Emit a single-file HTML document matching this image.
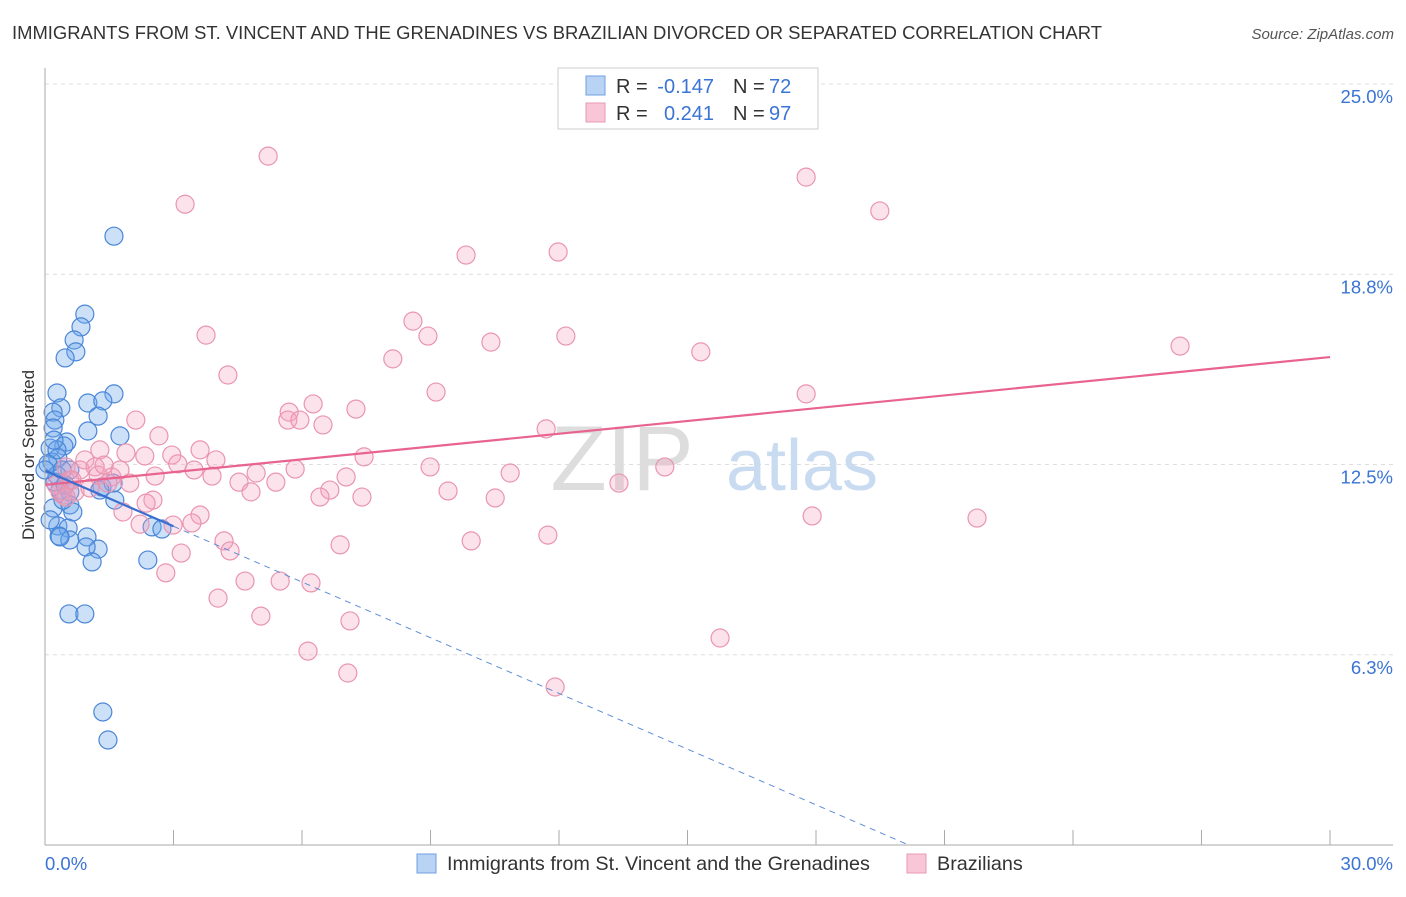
<!DOCTYPE html>
<html><head><meta charset="utf-8"><style>
body{margin:0;background:#fff;font-family:"Liberation Sans",sans-serif;}
svg text{font-family:"Liberation Sans",sans-serif;}
</style></head><body>
<svg id="chart" width="1406" height="892" viewBox="0 0 1406 892" xmlns="http://www.w3.org/2000/svg">
<text x="12" y="39" font-size="18" fill="#333" textLength="1090" lengthAdjust="spacingAndGlyphs">IMMIGRANTS FROM ST. VINCENT AND THE GRENADINES VS BRAZILIAN DIVORCED OR SEPARATED CORRELATION CHART</text>
<text x="1394" y="39" font-size="15" fill="#555" text-anchor="end" font-style="italic">Source: ZipAtlas.com</text>
<text transform="translate(34,455) rotate(-90)" font-size="17" fill="#333" text-anchor="middle">Divorced or Separated</text>
<g id="grid"></g>
<g id="watermark">
<text x="622" y="490" font-size="92" fill="#ddd" font-family="Liberation Serif" text-anchor="middle">ZIP</text>
<text x="802" y="490" font-size="72" fill="#c9dbf0" text-anchor="middle">atlas</text>
</g>
<g id="blue-points"></g>
<g id="pink-points"></g>
<g id="trends"></g>
<g id="axes"></g>
<g>
<rect x="558" y="68" width="260" height="61" fill="#fff" stroke="#ccc"/>
<rect x="586" y="76" width="19" height="19" fill="#b9d3f5" stroke="#6f9fe0"/>
<rect x="586" y="103" width="19" height="19" fill="#f8c6d6" stroke="#e99ab4"/>
<text x="616" y="93" font-size="20" fill="#333">R =</text>
<text x="714" y="93" font-size="20" fill="#3a74d4" text-anchor="end">-0.147</text>
<text x="733" y="93" font-size="20" fill="#333">N =</text>
<text x="769" y="93" font-size="20" fill="#3a74d4">72</text>
<text x="616" y="120" font-size="20" fill="#333">R =</text>
<text x="714" y="120" font-size="20" fill="#3a74d4" text-anchor="end">0.241</text>
<text x="733" y="120" font-size="20" fill="#333">N =</text>
<text x="769" y="120" font-size="20" fill="#3a74d4">97</text>
</g>
<g>
<rect x="417" y="854" width="19" height="19" fill="#b9d3f5" stroke="#6f9fe0"/>
<text x="447" y="870" font-size="19.8" fill="#333">Immigrants from St. Vincent and the Grenadines</text>
<rect x="907" y="854" width="19" height="19" fill="#f8c6d6" stroke="#e99ab4"/>
<text x="937" y="870" font-size="19.8" fill="#333">Brazilians</text>
</g>
</svg>
<script>
const yTicks=[6.25,12.5,18.75,25];
const yTickLabels=["6.3%","12.5%","18.8%","25.0%"];
const xTickCount=10;
const xLabels=["0.0%","30.0%"];
const blueX=[1.61,0.93,0.84,0.68,0.72,0.47,0.28,1.61,1.0,1.35,0.37,0.19,1.24,0.23,1.0,1.75,0.19,0.51,0.44,0.12,0.3,0.16,0.07,0.58,0.28,0.35,0.58,0.23,1.33,1.59,1.63,0.58,0.65,0.19,0.3,0.54,2.5,2.73,0.33,0.58,0.98,1.24,0.96,1.1,2.4,0.56,0.93,1.35,1.47,0.42,0.28,0.4,0.47,0.21,0.12,1.28,0,0.35];
const blueY=[20.0,17.44,17.02,16.59,16.2,16.0,14.85,14.82,14.52,14.59,14.36,14.22,14.09,13.96,13.6,13.44,13.7,13.24,13.11,13.04,12.71,12.58,12.52,12.32,12.15,11.66,11.6,11.92,11.76,11.89,11.33,11.17,10.94,11.07,10.48,10.41,10.45,10.38,10.15,10.02,10.12,9.72,9.79,9.3,9.36,7.59,7.59,4.37,3.45,11.33,12.98,12.32,11.83,13.3,10.68,11.66,12.32,10.12];
const pinkX=[5.21,3.27,17.77,19.49,9.83,11.98,3.76,8.59,8.94,10.41,12.16,15.31,26.5,8.12,4.27,9.13,17.77,5.7,6.26,7.26,5.67,5.95,6.49,2.12,2.66,11.7,3.62,3.99,2.96,2.33,1.28,1.89,7.45,8.99,10.86,14.47,5.84,4.93,3.48,2.57,3.1,3.9,1.56,1.98,4.53,5.39,7.03,6.65,4.81,2.52,2.36,9.41,10.51,13.4,7.4,6.42,1.82,3.62,3.43,2.22,2.99,17.91,21.76,11.74,9.95,6.89,4.18,4.32,3.18,2.82,4.67,5.49,6.21,4.04,5.04,7.12,15.76,6.14,7.07,11.91,0.49,0.82,0.58,0.35,0.7,1.05,1.47,0.93,1.17,0.26,0.42,0.63,1.24,1.75,0.49,1.38];
const pinkY=[22.63,21.05,21.94,20.83,19.38,19.48,16.75,17.21,16.72,16.52,16.72,16.2,16.39,15.97,15.44,14.88,14.82,14.22,14.49,14.32,13.96,13.96,13.8,13.96,13.44,13.67,12.98,12.65,12.81,12.78,12.98,12.88,12.75,12.42,12.22,12.42,12.35,12.22,12.32,12.12,12.52,12.12,12.09,11.89,11.92,11.92,12.09,11.66,11.6,11.33,11.23,11.63,11.4,11.89,11.43,11.43,10.94,10.84,10.58,10.54,10.51,10.81,10.74,10.18,9.99,9.86,9.99,9.66,9.59,8.94,8.67,8.67,8.61,8.11,7.52,7.36,6.8,6.37,5.65,5.19,12.42,12.32,11.99,11.6,11.6,11.73,11.89,12.65,12.42,11.83,11.5,11.99,12.15,12.32,11.43,12.48];
const pinkTrend=[11.83,16.03];
const blueTrend=[12.3,-0.61];
const blueSolidEnd=3.0;
const NS="http://www.w3.org/2000/svg";
const X0=45,X1=1330,Y0=845,Ytop=84;
const sx=v=>X0+v/30*(X1-X0);
const sy=v=>Y0-v/25*(Y0-Ytop);
function mk(tag,attrs,parent){const e=document.createElementNS(NS,tag);for(const k in attrs)e.setAttribute(k,attrs[k]);parent.appendChild(e);return e;}
const grid=document.getElementById('grid');
yTicks.forEach((t,i)=>{
  const l=mk('line',{x1:X0,x2:1393,y1:sy(t),y2:sy(t),stroke:'#ddd','stroke-dasharray':'4,4'},grid);
  
  
  const tx=mk('text',{x:1393,y:sy(t)+19,'font-size':18.5,fill:'#3a74d4','text-anchor':'end'},grid);
  
  
  tx.textContent=yTickLabels[i];
});
const axes=document.getElementById('axes');
mk('line',{x1:X0,x2:X0,y1:68,y2:Y0,stroke:'#aaa'},axes);
mk('line',{x1:X0,x2:1393,y1:Y0,y2:Y0,stroke:'#aaa'},axes);
for(let i=0;i<=xTickCount;i++){
  const x=sx(i*30/xTickCount);
  const t=mk('line',{x1:x,x2:x,y1:830,y2:Y0,stroke:'#aaa'},axes);
  
  
}
const xl0=mk('text',{x:45,y:870,'font-size':18.5,fill:'#3a74d4'},axes);


xl0.textContent=xLabels[0];
const xl1=mk('text',{x:1393,y:870,'font-size':18.5,fill:'#3a74d4','text-anchor':'end'},axes);


xl1.textContent=xLabels[1];
const bg=document.getElementById('blue-points');
blueX.forEach((v,i)=>{
  const c=mk('circle',{cx:sx(v),cy:sy(blueY[i]),r:9,fill:'rgba(110,165,235,0.35)',stroke:'#4a86d8','stroke-width':1.2},bg);
  
  
});
const pg=document.getElementById('pink-points');
pinkX.forEach((v,i)=>{
  const c=mk('circle',{cx:sx(v),cy:sy(pinkY[i]),r:9,fill:'rgba(245,160,190,0.3)',stroke:'#e995b0','stroke-width':1.2},pg);
  
  
});
const tg=document.getElementById('trends');
const pl=mk('line',{x1:sx(0),y1:sy(pinkTrend[0]),x2:sx(30),y2:sy(pinkTrend[1]),stroke:'#e8648f','stroke-width':2.2},tg);


const bl=mk('line',{x1:sx(0),y1:sy(blueTrend[0]),x2:sx(blueSolidEnd),y2:sy(blueTrend[0]+blueTrend[1]*blueSolidEnd),stroke:'#3a6fd0','stroke-width':2.2},tg);


const xEnd=-blueTrend[0]/blueTrend[1];
const bd=mk('line',{x1:sx(blueSolidEnd),y1:sy(blueTrend[0]+blueTrend[1]*blueSolidEnd),x2:sx(xEnd),y2:sy(0),stroke:'#5a8ad8','stroke-width':1,'stroke-dasharray':'6,5'},tg);


</script>
</body></html>
